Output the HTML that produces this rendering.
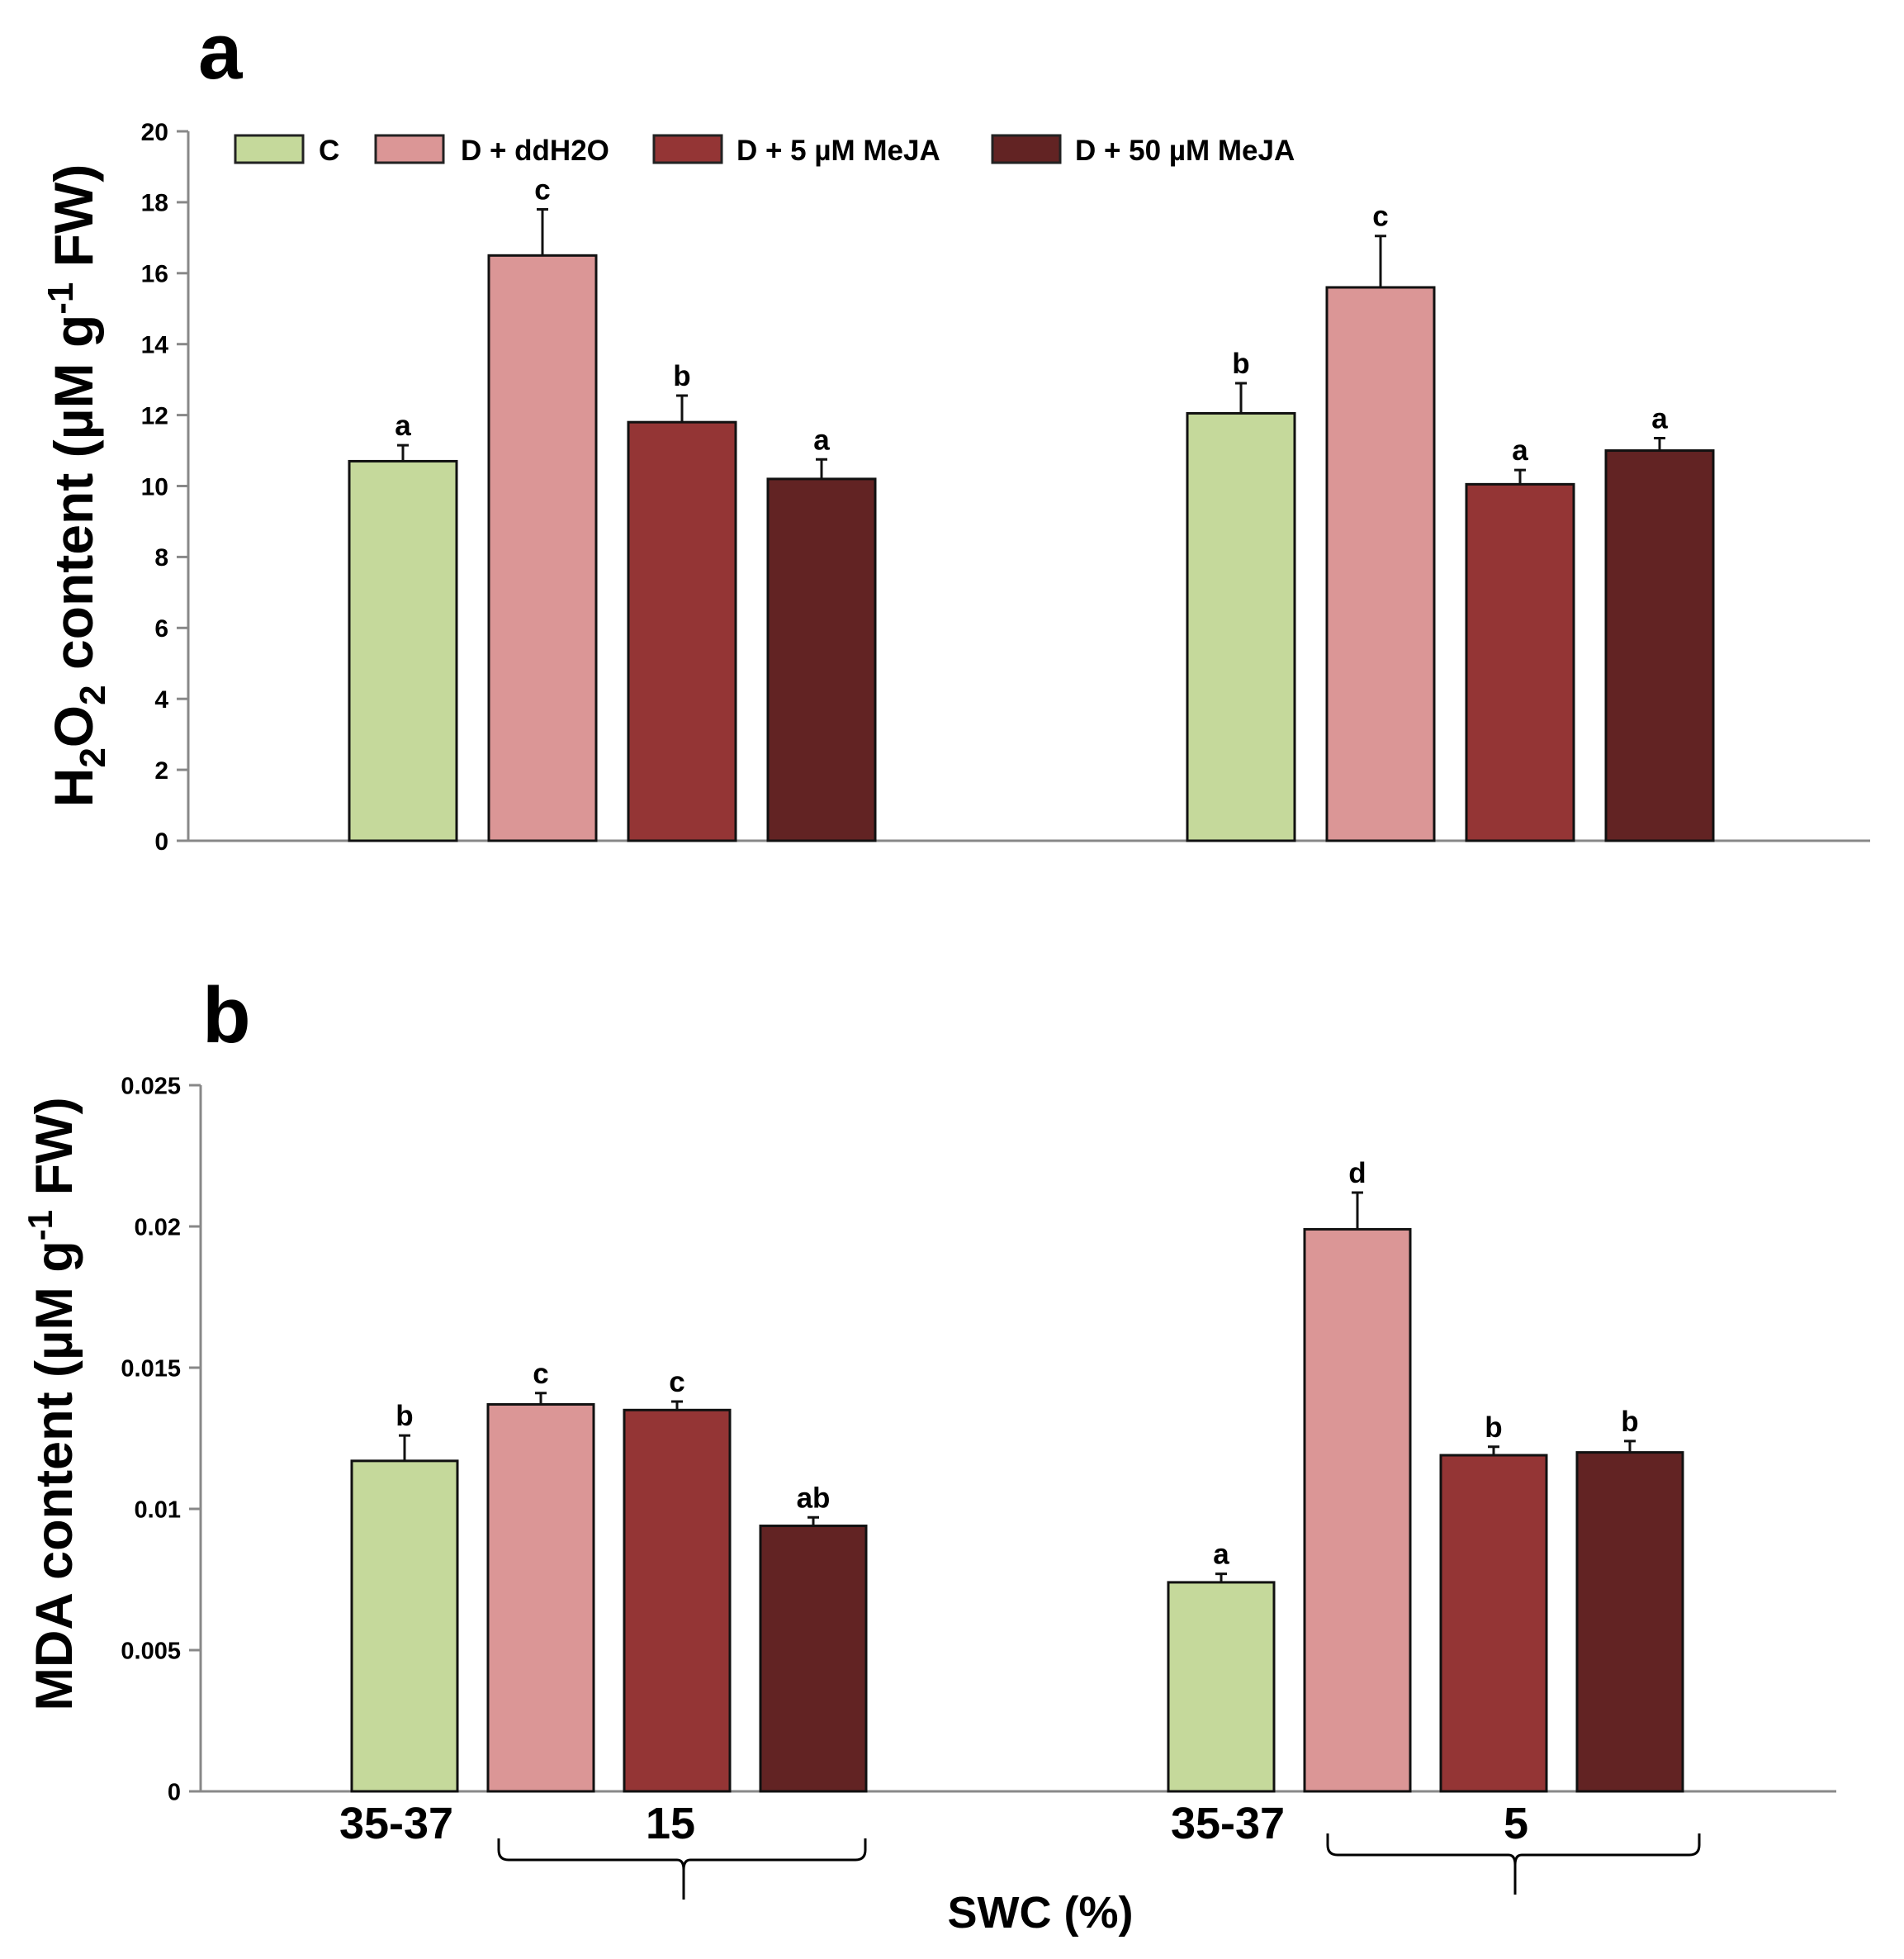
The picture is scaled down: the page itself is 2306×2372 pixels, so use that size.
<!DOCTYPE html>
<html><head><meta charset="utf-8"><style>
html,body{margin:0;padding:0;background:#fff;}
svg{display:block;}
text{font-family:"Liberation Sans",sans-serif;font-weight:bold;fill:#000;}
</style></head><body>
<svg id="fig" width="2306" height="2372" viewBox="0 0 2306 2372" xmlns="http://www.w3.org/2000/svg">
<text x="240" y="95" font-size="96" fill="#1a1f26">a</text>
<text x="245" y="1262" font-size="96" fill="#1a1f26">b</text>
<g id="legend"></g>
<g id="pa"></g>
<g id="pb"></g>
<text transform="translate(112,588) rotate(-90)" text-anchor="middle" font-size="66">H<tspan font-size="44" dy="15">2</tspan><tspan dy="-15">O</tspan><tspan font-size="44" dy="15">2</tspan><tspan dy="-15"> content (µM g</tspan><tspan font-size="44" dy="-24">-1</tspan><tspan dy="24"> FW)</tspan></text>
<text transform="translate(87,1700) rotate(-90)" text-anchor="middle" font-size="63">MDA content (µM g<tspan font-size="42" dy="-24">-1</tspan><tspan dy="24"> FW)</tspan></text>
<g>
<text x="480" y="2226" text-anchor="middle" font-size="54">35-37</text>
<text x="812" y="2226" text-anchor="middle" font-size="54">15</text>
<text x="1487" y="2226" text-anchor="middle" font-size="54">35-37</text>
<text x="1836" y="2226" text-anchor="middle" font-size="54">5</text>
<path d="M604,2226 v14 q0,12 12,12 h204 q8,0 8,12 q0,-12 8,-12 h200 q12,0 12,-12 v-14 M828,2264 v36" fill="none" stroke="#000" stroke-width="3"/>
<path d="M1608,2220 v14 q0,12 12,12 h207 q8,0 8,12 q0,-12 8,-12 h203 q12,0 12,-12 v-14 M1835,2258 v36" fill="none" stroke="#000" stroke-width="3"/>
<text x="1260" y="2334" text-anchor="middle" font-size="54">SWC (%)</text>
</g>
</svg>
<script>
const seriesNames = ["C", "D + ddH2O", "D + 5 µM MeJA", "D + 50 µM MeJA"];
const colors = ["#c5d99b", "#db9696", "#943535", "#622323"];
const h2o2Values = [10.7, 16.5, 11.8, 10.2, 12.05, 15.6, 10.05, 11.0];
const h2o2Errors = [0.45, 1.3, 0.75, 0.55, 0.85, 1.45, 0.4, 0.35];
const h2o2Letters = ["a", "c", "b", "a", "b", "c", "a", "a"];
const h2o2Ticks = [0, 2, 4, 6, 8, 10, 12, 14, 16, 18, 20];
const h2o2TickLabels = ["0", "2", "4", "6", "8", "10", "12", "14", "16", "18", "20"];
const mdaValues = [0.0117, 0.0137, 0.0135, 0.0094, 0.0074, 0.0199, 0.0119, 0.0120];
const mdaErrors = [0.0009, 0.0004, 0.0003, 0.0003, 0.0003, 0.0013, 0.0003, 0.0004];
const mdaLetters = ["b", "c", "c", "ab", "a", "d", "b", "b"];
const mdaTicks = [0, 0.005, 0.01, 0.015, 0.02, 0.025];
const mdaTickLabels = ["0", "0.005", "0.01", "0.015", "0.02", "0.025"];

const NS = "http://www.w3.org/2000/svg";
function mk(parent, tag, attrs, txt) {
  const e = document.createElementNS(NS, tag);
  for (const k in attrs) e.setAttribute(k, attrs[k]);
  if (txt !== undefined) e.textContent = txt;
  parent.appendChild(e);
  return e;
}

function drawPanel(g, cfg) {
  const y = v => cfg.y0 - (v - cfg.min) / (cfg.max - cfg.min) * (cfg.y0 - cfg.yTop);
  const ax = mk(g, "line", {x1: cfg.x0, y1: cfg.yTop, x2: cfg.x0, y2: cfg.y0, stroke: "#888", "stroke-width": 3});
  
  
  const bx = mk(g, "line", {x1: cfg.x0 - 14, y1: cfg.y0, x2: cfg.xEnd, y2: cfg.y0, stroke: "#888", "stroke-width": 3});
  
  
  cfg.ticks.forEach((t, i) => {
    const tk = mk(g, "line", {x1: cfg.x0 - 14, y1: y(t), x2: cfg.x0, y2: y(t), stroke: "#888", "stroke-width": 3});
    
    
    const tl = mk(g, "text", {x: cfg.x0 - 24, y: y(t) + cfg.tickFs * 0.36, "text-anchor": "end", "font-size": cfg.tickFs}, cfg.tickLabels[i]);
    
    
  });
  cfg.values.forEach((v, i) => {
    const grp = Math.floor(i / 4), k = i % 4;
    const bx0 = cfg.starts[grp] + k * cfg.step;
    const r = mk(g, "rect", {x: bx0, y: y(v), width: cfg.bw, height: cfg.y0 - y(v), fill: colors[k], stroke: "#111", "stroke-width": 3});
    
    
    const cx = bx0 + cfg.bw / 2, top = y(v + cfg.errors[i]);
    const e = mk(g, "path", {d: `M${cx},${y(v)} V${top} M${cx - 7},${top} H${cx + 7}`, stroke: "#111", "stroke-width": 3, fill: "none"});
    
    
    const lt = mk(g, "text", {x: cx, y: top - 12, "text-anchor": "middle", "font-size": cfg.letterFs}, cfg.letters[i]);
    
    
  });
}

drawPanel(document.getElementById("pa"), {
  x0: 228, xEnd: 2265, y0: 1018, yTop: 159, min: 0, max: 20,
  ticks: h2o2Ticks, tickLabels: h2o2TickLabels, tickFs: 30,
  values: h2o2Values, errors: h2o2Errors, letters: h2o2Letters, letterFs: 35,
  starts: [423, 1438], step: 169, bw: 130
});
drawPanel(document.getElementById("pb"), {
  x0: 243, xEnd: 2224, y0: 2169, yTop: 1314, min: 0, max: 0.025,
  ticks: mdaTicks, tickLabels: mdaTickLabels, tickFs: 29,
  values: mdaValues, errors: mdaErrors, letters: mdaLetters, letterFs: 35,
  starts: [426, 1415], step: 165, bw: 128
});

const lg = document.getElementById("legend");
const lgSw = [285, 455, 792, 1202];
const lgTx = [386, 558, 892, 1302];
seriesNames.forEach((n, k) => {
  const s = mk(lg, "rect", {x: lgSw[k], y: 164, width: 82, height: 33, fill: colors[k], stroke: "#222", "stroke-width": 3});
  
  
  const t = mk(lg, "text", {x: lgTx[k], y: 194, "font-size": 35}, n);
  
  
});
</script>
</body></html>
